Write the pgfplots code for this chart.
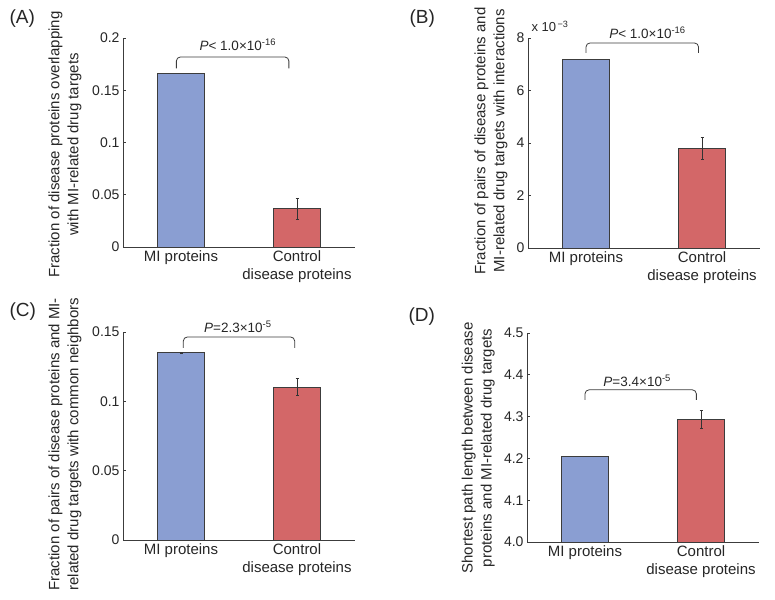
\documentclass[border=0pt]{standalone}
\usepackage{pgfplots}
\pgfplotsset{compat=1.18}
\usepackage{fontspec}
\setmainfont{Liberation Sans}
\definecolor{barblue}{RGB}{138,158,210}
\definecolor{barred}{RGB}{211,103,104}
\definecolor{edge}{RGB}{60,60,60}
\tikzset{ptext/.style={font=\fontsize{13.5}{16}\selectfont, text=black!85}}
\pgfplotsset{
  panel/.style={
    anchor=south west, scale only axis, width=232pt,
    xmin=0.5, xmax=2.5, xtick={1,2},
    xticklabels={MI proteins,{Control\\disease proteins}},
    xticklabel style={align=center, font=\fontsize{15}{18}\selectfont, text=black!85},
    yticklabel style={font=\fontsize{14}{16}\selectfont, text=black!85},
    /pgf/number format/assume math mode=true,
    scaled y ticks=false,
    axis lines*=left,
    axis line style={edge, line width=0.8pt},
    tick align=inside, major tick length=3pt,
    tick style={edge, line width=0.6pt},
    ylabel style={align=center, font=\fontsize{15}{19}\selectfont, text=black!85, anchor=center},
    every axis plot/.append style={ybar, bar width=0.4, bar shift=0pt, draw=edge, line width=0.8pt},
    error bars/error bar style={black!80, line width=0.7pt},
    error bars/error mark options={rotate=90, mark size=1.5pt, black!80, line width=0.6pt},
  },
}
\begin{document}
\begin{tikzpicture}
\path[use as bounding box] (0,0) rectangle (775pt,599pt);
% Panel labels
\node[anchor=west, font=\fontsize{19}{21}\selectfont, text=black!85] at (6pt,580pt) {(A)};
\node[anchor=west, font=\fontsize{19}{21}\selectfont, text=black!85] at (406pt,580pt) {(B)};
\node[anchor=west, font=\fontsize{19}{21}\selectfont, text=black!85] at (6pt,287pt) {(C)};
\node[anchor=west, font=\fontsize{19}{21}\selectfont, text=black!85] at (405pt,282pt) {(D)};

% (A)
\begin{axis}[panel, at={(123pt,352pt)}, height=209pt,
  ymin=0, ymax=0.2, ytick={0,0.05,0.1,0.15,0.2},
  yticklabels={0,0.05,0.1,0.15,0.2},
  clip=false,
  ylabel={Fraction of disease proteins overlapping\\with MI-related drug targets},
  ylabel style={at={(axis description cs:-0.25,0.49)}}]
\addplot[fill=barblue] coordinates {(1,0.1665)};
\addplot[fill=barred, error bars/.cd, y dir=both, y explicit] coordinates {(2,0.0367) +- (0,0.0100)};
\draw[edge, line width=0.8pt, rounded corners=4pt] (axis cs:0.96,0.171) -- (axis cs:0.96,0.1818) -- (axis cs:1.93,0.1818) -- (axis cs:1.93,0.171);
\node[ptext] at (axis cs:1.49,0.1935) {\textit{P}< 1.0×10\textsuperscript{-16}};
\end{axis}

% (B)
\begin{axis}[panel, at={(528pt,351pt)}, height=210pt,
  ymin=0, ymax=8, ytick={0,2,4,6,8},
  clip=false,
  ylabel={Fraction of pairs of disease proteins and\\MI-related drug targets with interactions},
  ylabel style={at={(axis description cs:-0.16,0.51)}}]
\addplot[fill=barblue] coordinates {(1,7.18)};
\addplot[fill=barred, error bars/.cd, y dir=both, y explicit] coordinates {(2,3.80) +- (0,0.41)};
\draw[edge, line width=0.8pt, rounded corners=4pt] (axis cs:1.0,7.43) -- (axis cs:1.0,7.81) -- (axis cs:1.97,7.81) -- (axis cs:1.97,7.43);
\node[ptext] at (axis cs:1.53,8.2) {\textit{P}< 1.0×10\textsuperscript{-16}};
\node[anchor=base west, font=\fontsize{13}{15}\selectfont, text=black!85] at ([yshift=6pt]rel axis cs:0,1) {x 10\textsuperscript{\,\char"2212 3}};
\end{axis}

% (C)
\begin{axis}[panel, at={(123pt,59pt)}, height=208pt,
  ymin=0, ymax=0.15, ytick={0,0.05,0.1,0.15},
  yticklabels={0,0.05,0.1,0.15},
  clip=false,
  ylabel={Fraction of pairs of disease proteins and MI-\\related drug targets with common neighbors},
  ylabel style={at={(axis description cs:-0.25,0.46)}}]
\addplot[fill=barblue, error bars/.cd, y dir=both, y explicit] coordinates {(1,0.1350) +- (0,0.0005)};
\addplot[fill=barred, error bars/.cd, y dir=both, y explicit] coordinates {(2,0.1104) +- (0,0.0060)};
\draw[edge, line width=0.8pt, rounded corners=4pt] (axis cs:1.02,0.1385) -- (axis cs:1.02,0.1464) -- (axis cs:1.98,0.1464) -- (axis cs:1.98,0.1385);
\node[ptext] at (axis cs:1.49,0.1540) {\textit{P}=2.3×10\textsuperscript{-5}};
\end{axis}

% (D)
\begin{axis}[panel, at={(527pt,57pt)}, height=209pt,
  ymin=4.0, ymax=4.5, ytick={4.0,4.1,4.2,4.3,4.4,4.5},
  yticklabels={4.0,4.1,4.2,4.3,4.4,4.5},
  clip=true,
  ylabel={Shortest path length between disease\\proteins and MI-related drug targets},
  ylabel style={at={(axis description cs:-0.21,0.45)}}]
\addplot[fill=barblue] coordinates {(1,4.205)};
\addplot[fill=barred, error bars/.cd, y dir=both, y explicit] coordinates {(2,4.293) +- (0,0.022)};
\draw[edge, line width=0.8pt, rounded corners=4pt] (axis cs:1.0,4.34) -- (axis cs:1.0,4.364) -- (axis cs:1.96,4.364) -- (axis cs:1.96,4.34);
\node[ptext] at (axis cs:1.45,4.385) {\textit{P}=3.4×10\textsuperscript{-5}};
\end{axis}
\end{tikzpicture}
\end{document}
